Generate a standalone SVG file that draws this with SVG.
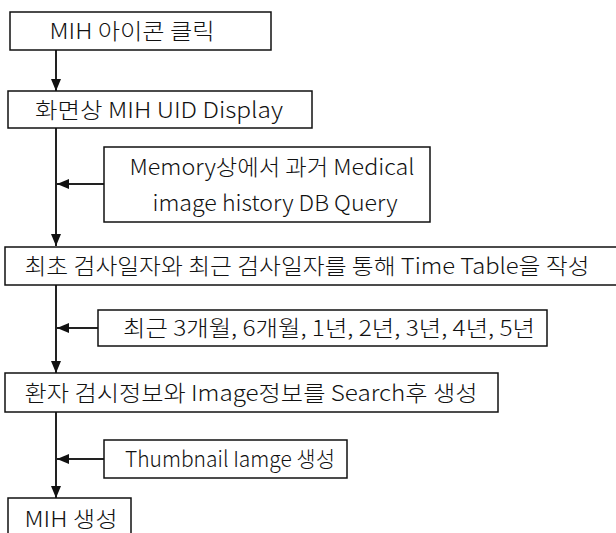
<svg xmlns="http://www.w3.org/2000/svg" width="616" height="533" viewBox="0 0 616 533">
<style>
.box{fill:#fff;stroke:#111;stroke-width:1.5}
.t{font-family:"Noto Sans CJK KR","Noto Sans",sans-serif;font-size:22px;font-weight:300;fill:#111;text-anchor:middle}
.c{fill:none;stroke:#222;stroke-width:2}
</style>
<defs>
<marker id="ah" viewBox="0 0 12 10" refX="12" refY="5" markerWidth="12" markerHeight="10" markerUnits="userSpaceOnUse" orient="auto">
<path d="M0,0 L12,5 L0,10 Z" fill="#111"/>
</marker>
</defs>
<rect width="616" height="533" fill="#fff"/>
<g id="connectors">
<line class="c" x1="56" y1="50" x2="56" y2="91" marker-end="url(#ah)"/>
<line class="c" x1="56" y1="128" x2="56" y2="246" marker-end="url(#ah)"/>
<line class="c" x1="104" y1="184" x2="57" y2="184" marker-end="url(#ah)"/>
<line class="c" x1="56" y1="285" x2="56" y2="373" marker-end="url(#ah)"/>
<line class="c" x1="98" y1="328" x2="57" y2="328" marker-end="url(#ah)"/>
<line class="c" x1="56" y1="412" x2="56" y2="498" marker-end="url(#ah)"/>
<line class="c" x1="104" y1="459" x2="57" y2="459" marker-end="url(#ah)"/>
</g>
<g id="n1"><rect class="box" x="10" y="12" width="261" height="38"/><text class="t" x="132" y="39" textLength="165" lengthAdjust="spacingAndGlyphs">MIH 아이콘 클릭</text></g>
<g id="n2"><rect class="box" x="8" y="91" width="304" height="37"/><text class="t" x="159" y="118" textLength="248" lengthAdjust="spacingAndGlyphs">화면상 MIH UID Display</text></g>
<g id="n3"><rect class="box" x="104" y="147" width="326" height="75"/><text class="t" x="272" y="175" textLength="285" lengthAdjust="spacingAndGlyphs">Memory상에서 과거 Medical</text><text class="t" x="275" y="211" textLength="245" lengthAdjust="spacingAndGlyphs">image history DB Query</text></g>
<g id="n4"><rect class="box" x="5" y="247" width="620" height="38"/><text class="t" x="307" y="274" textLength="565" lengthAdjust="spacingAndGlyphs">최초 검사일자와 최근 검사일자를 통해 Time Table을 작성</text></g>
<g id="n5"><rect class="box" x="98" y="310" width="449" height="36"/><text class="t" x="329" y="336" textLength="412" lengthAdjust="spacingAndGlyphs">최근 3개월, 6개월, 1년, 2년, 3년, 4년, 5년</text></g>
<g id="n6"><rect class="box" x="5" y="373" width="493" height="39"/><text class="t" x="251" y="401" textLength="453" lengthAdjust="spacingAndGlyphs">환자 검시정보와 Image정보를 Search후 생성</text></g>
<g id="n7"><rect class="box" x="104" y="440" width="243" height="38"/><text class="t" x="230" y="467" textLength="210" lengthAdjust="spacingAndGlyphs">Thumbnail Iamge 생성</text></g>
<g id="n8"><rect class="box" x="8" y="498" width="123" height="45"/><text class="t" x="71" y="527" textLength="93" lengthAdjust="spacingAndGlyphs">MIH 생성</text></g>
</svg>
